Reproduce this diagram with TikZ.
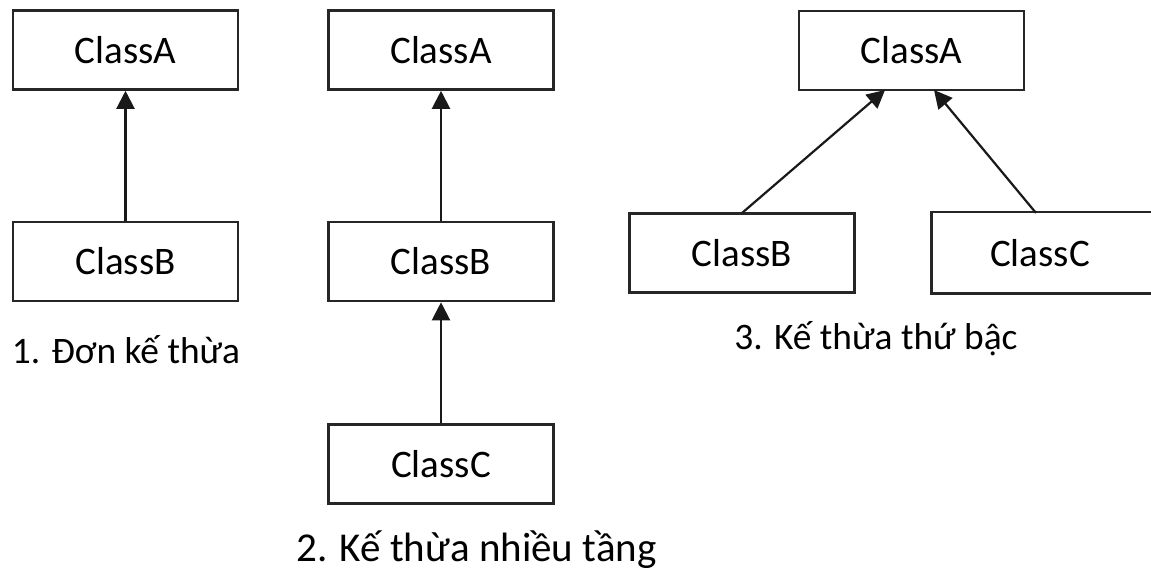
\documentclass[tikz,border=0pt]{standalone}
\usepackage{fontspec}
\setmainfont{Carlito}
\usetikzlibrary{arrows.meta}
\begin{document}
\begin{tikzpicture}[x=0.5pt,y=-0.5pt,
  classbox/.style={draw=black!85,line width=1.3pt,minimum width=112.5pt,minimum height=39.5pt,
    inner sep=0pt,font=\fontsize{19.5}{21}\selectfont},
  inherit/.style={-{Triangle[width=9pt,length=9pt]},line width=1.1pt,black!90},
  caption/.style={font=\fontsize{18.7}{21}\selectfont,inner sep=0pt,anchor=base}]
\useasboundingbox (0,0) rectangle (1151,572);
\clip (0,0) rectangle (1151,572);
% 1. single inheritance
\node[classbox] (a1) at (125.5,50) {ClassA};
\node[classbox] (b1) at (125.5,261.5) {ClassB};
\draw[inherit] (b1) -- (a1);
\node[caption] (c1) at (126,363) {1. Đơn kế thừa};
% 2. multilevel inheritance
\node[classbox] (a2) at (441,50) {ClassA};
\node[classbox] (b2) at (441,261.5) {ClassB};
\node[classbox] (cc2) at (441,464) {ClassC};
\draw[inherit] (b2) -- (a2);
\draw[inherit] (cc2) -- (b2);
\node[caption,font=\fontsize{20.5}{23}\selectfont] (c2) at (476.5,561) {2. Kế thừa nhiều tầng};
% 3. hierarchical inheritance
\node[classbox] (a3) at (911.5,50.5) {ClassA};
\node[classbox] (b3) at (742,253) {ClassB};
\node[classbox,draw=none,minimum width=107pt] (cc3) at (1040,253) {ClassC};
\draw[black!85,line width=1.3pt] ([xshift=20pt]cc3.north east) -- (cc3.north west)
  -- (cc3.south west) -- ([xshift=20pt]cc3.south east);
\coordinate (b3t) at (742,213);
\coordinate (cc3t) at (1036,213);
\coordinate (a3l) at (885,90);
\coordinate (a3r) at (934,90);
\draw[inherit] (b3t) -- (a3l);
\draw[inherit] (cc3t) -- (a3r);
\node[caption] (c3) at (876,350) {3. Kế thừa thứ bậc};
\end{tikzpicture}
\end{document}
